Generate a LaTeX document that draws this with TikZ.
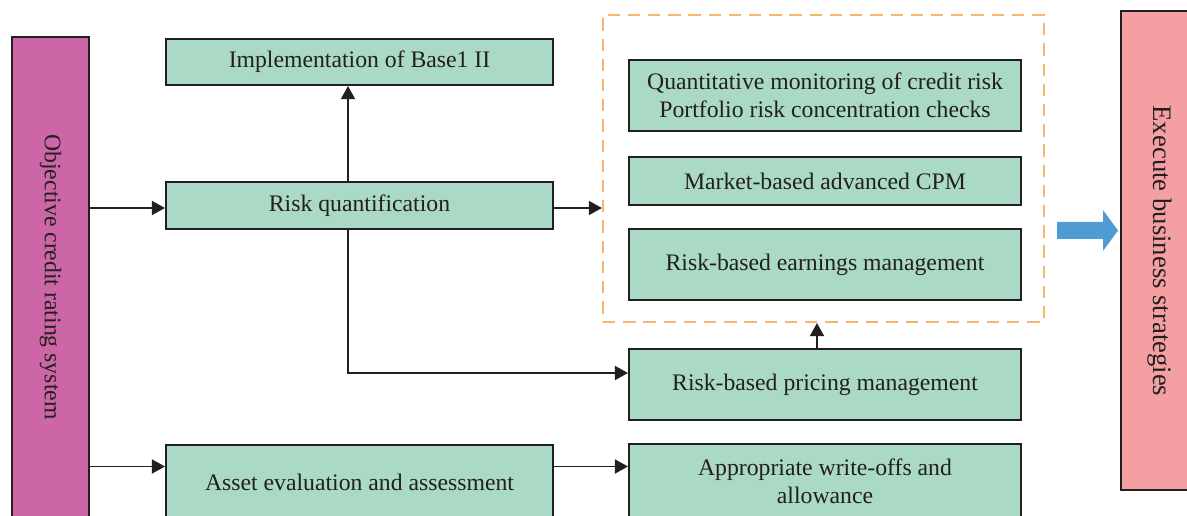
\documentclass[tikz,border=0pt]{standalone}
\usepackage{fontspec}
\setmainfont{Liberation Serif}
\usetikzlibrary{calc,arrows.meta}

\definecolor{boxgreen}{RGB}{170,217,197}
\definecolor{objpurple}{RGB}{204,102,166}
\definecolor{execpink}{RGB}{244,160,163}
\definecolor{dashorange}{RGB}{248,181,112}
\definecolor{arrowblue}{RGB}{79,155,211}
\definecolor{inkdark}{RGB}{35,31,32}

\tikzset{
  stepbox/.style={draw=inkdark, line width=1.2pt, fill=boxgreen, text=inkdark,
    minimum width=7.74cm, align=center, inner sep=2pt},
  sidebox/.style={draw=inkdark, line width=1.2pt, text=inkdark, align=center},
  link/.style={draw=inkdark, line width=1.1pt, -{Triangle[length=7.5pt,width=8pt]}},
}

\begin{document}
\begin{tikzpicture}[x=0.02cm, y=-0.02cm, font=\fontsize{13.5}{16}\selectfont]
			%%%%% FRAME %%%%%
			\useasboundingbox (0, 0) rectangle (1187, 516);
			\clip (0, 0) rectangle (1187, 516);
			
			%%%%% LEFT AND RIGHT %%%%%
			\node[sidebox, fill=objpurple, minimum width=1.54cm, minimum height=9.66cm] (obj) at (50.5, 278.5) {};
			\node[rotate=-90, text=inkdark] at (50.5, 277) {Objective credit rating system};
			
			\node[sidebox, fill=execpink, minimum width=1.56cm, minimum height=9.58cm] (exec) at (1160, 250.5) {};
			\node[rotate=-90, text=inkdark, font=\fontsize{15.2}{18}\selectfont] at (1160, 251) {Execute business strategies};
			
			%%%%% MIDDLE COLUMN %%%%%
			\node[stepbox, minimum height=0.92cm] (impl) at (359.5, 62) {Implementation of Base1 II};
			\node[stepbox, minimum height=0.94cm] (riskq) at (359.5, 205.5) {Risk quantification};
			\node[stepbox, minimum height=1.48cm] (asset) at (359.5, 482) {Asset evaluation and assessment};
			
			%%%%% RIGHT COLUMN %%%%%
			\node[draw=dashorange, line width=1.2pt, dash pattern=on 7pt off 4.5pt,
			      minimum width=8.82cm, minimum height=6.14cm] (group) at (823.5, 168.5) {};
			\node[stepbox, minimum width=7.84cm, minimum height=1.42cm] (quant) at (825, 95.5)
			     {Quantitative monitoring of credit risk\\Portfolio risk concentration checks};
			\node[stepbox, minimum width=7.84cm, minimum height=0.96cm] (cpm) at (825, 181) {Market-based advanced CPM};
			\node[stepbox, minimum width=7.84cm, minimum height=1.42cm] (earn) at (825, 264.5) {Risk-based earnings management};
			\node[stepbox, minimum width=7.84cm, minimum height=1.42cm] (pricing) at (825, 384.5) {Risk-based pricing management};
			\node[stepbox, minimum width=7.84cm, minimum height=1.48cm] (writeoff) at (825, 481) {Appropriate write-offs and\\allowance};
			
			%%%%% CONNECTORS %%%%%
			\draw[link] ($(obj.east |- riskq.west)+(0, 2.5)$) -- ($(riskq.west)+(0, 2.5)$);
			\draw[link] ($(riskq.north)+(-11.5, 0)$) -- ($(impl.south)+(-11.5, 0)$);
			\draw[link] ($(riskq.east)+(0, 2.5)$) -- ($(riskq.east -| group.west)+(0, 2.5)$);
			\draw[link] ($(riskq.south)+(-11.5, 0)$) |- ($(pricing.west)+(0, -11.5)$);
			\draw[link] ($(pricing.north)+(-8, 0)$) -- ($(group.south)+(-6.5, 0)$);
			\draw[link] ($(obj.east |- asset.west)+(0, -15.5)$) -- ($(asset.west)+(0, -15.5)$);
			\draw[link] ($(asset.east)+(0, -15.5)$) -- ($(writeoff.west)+(0, -14.5)$);
			
			%%%%% BLOCK ARROW %%%%%
			\fill[arrowblue] (1057, 222) -- (1103, 222) -- (1103, 210) -- (1118, 230.5)
			     -- (1103, 251) -- (1103, 239) -- (1057, 239) -- cycle;
			
		\end{tikzpicture}
\end{document}
